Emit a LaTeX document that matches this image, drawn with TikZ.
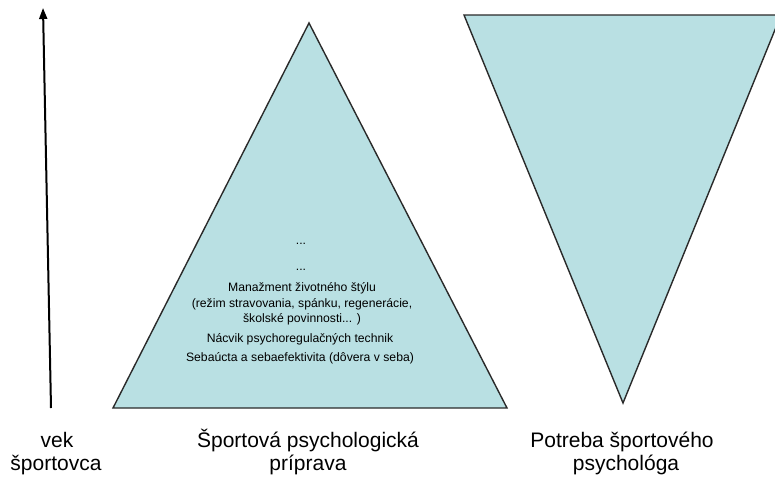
\documentclass[tikz,border=0pt]{standalone}
\usepackage{fontspec}
\setmainfont{Liberation Sans}
\usetikzlibrary{arrows.meta}
\definecolor{tri}{HTML}{B9E0E3}
\definecolor{edge}{HTML}{2A2A2A}
\begin{document}
\begin{tikzpicture}[x=1pt,y=-1pt,
  tribox/.style={fill=tri,draw=edge,line width=1.4pt,line join=miter},
  biglabel/.style={anchor=base,inner sep=0pt,font=\fontsize{21}{23}\selectfont},
  smalltext/.style={anchor=base,inner sep=0pt,font=\fontsize{12.2}{14}\selectfont}]
\useasboundingbox (0,0) rectangle (775,477);
\clip (0,0) rectangle (775,477);
% left pyramid
\coordinate (pa) at (309,23);
\coordinate (pl) at (113,408);
\coordinate (pr) at (507,408);
\draw[tribox] (pa) -- (pr) -- (pl) -- cycle;
% inverted triangle
\coordinate (ql) at (464,15);
\coordinate (qr) at (781,15);
\coordinate (qa) at (623,403);
\draw[tribox] (ql) -- (qr) -- (qa) -- cycle;
% age arrow
\coordinate (abot) at (51,408);
\coordinate (atop) at (43,8);
\draw[line width=2pt,-{Triangle[length=11pt,width=8pt]}] (abot) -- (atop);
% text in pyramid
\node[smalltext] (d1) at (301,244) {...};
\node[smalltext] (d2) at (301,270) {...};
\node[smalltext] (t1) at (302,291) {Manažment životného štýlu};
\node[smalltext] (t2) at (302,307) {(režim stravovania, spánku, regenerácie,};
\node[smalltext] (t3) at (302,322) {školské povinnosti... )};
\node[smalltext] (t4) at (300,342) {Nácvik psychoregulačných technik};
\node[smalltext] (t5) at (300,361) {Sebaúcta a sebaefektivita (dôvera v seba)};
% labels
\node[biglabel] (v1) at (57,447) {vek};
\node[biglabel] (v2) at (56,470) {športovca};
\node[biglabel] (s1) at (308,447) {Športová psychologická};
\node[biglabel] (s2) at (308,470) {príprava};
\node[biglabel] (p1) at (622,447) {Potreba športového};
\node[biglabel] (p2) at (626,470) {psychológa};
\end{tikzpicture}
\end{document}
